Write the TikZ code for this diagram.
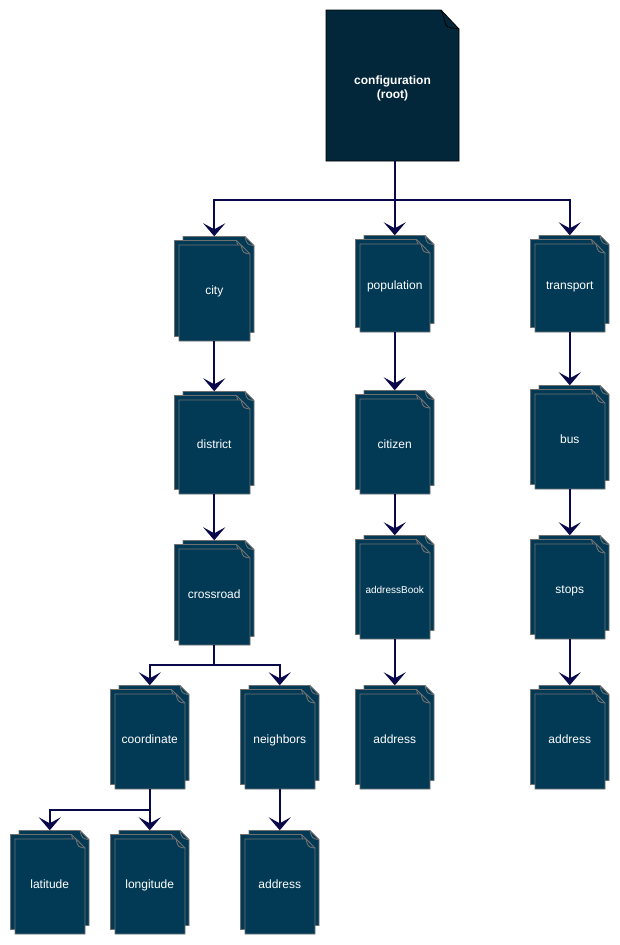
\documentclass[tikz,border=0pt]{standalone}
\usepackage{fontspec}
\setmainfont{Liberation Sans}
\usetikzlibrary{arrows.meta}

\definecolor{pagefill}{HTML}{023A55}
\definecolor{rootfill}{HTML}{03273A}
\definecolor{pageline}{HTML}{707070}
\definecolor{linkcol}{HTML}{08084A}

\tikzset{
  sheet/.style={fill=pagefill, draw=pageline, line width=0.9pt, line join=miter},
  foldline/.style={draw=pageline, line width=0.9pt},
  stacklabel/.style={inner sep=0pt, text=white, font=\fontsize{12}{14}\selectfont,
    align=center, text height=12pt, text depth=0pt},
  conn/.style={draw=linkcol, line width=2pt, -{Stealth[length=13pt,width=22pt,inset=6pt]}},
}

% one page with a folded top-right corner: left, top, width, height
\newcommand\drawsheet[4]{%
  \path[sheet] ({#1},{#2}) -- ({#1+#3-9},{#2}) -- ({#1+#3},{#2+9})
    -- ({#1+#3},{#2+#4}) -- ({#1},{#2+#4}) -- cycle;
  \draw[foldline] ({#1+#3-9},{#2}) .. controls ({#1+#3-7},{#2+8}) .. ({#1+#3},{#2+9});
}

% a stack of three pages with a named label node over the whole stack
% name, left and top of the front page, width, height, label
\newcommand\docstack[6]{%
  \drawsheet{#2+4}{#3-8.5}{#4}{#5}
  \drawsheet{#2-4.5}{#3-4.5}{#4}{#5}
  \drawsheet{#2}{#3}{#4}{#5}
  \node[stacklabel, minimum width={#4pt+8.5pt}, minimum height={#5pt+8.5pt}]
    (#1) at ({#2-4.5+(#4+8.5)/2},{#3-8.5+(#5+8.5)/2}) {#6};
}

\begin{document}
\begin{tikzpicture}[x=1pt, y=-1pt]
\useasboundingbox (0,0) rectangle (620,945);

% root document
\path[fill=rootfill, draw=black, line width=0.8pt]
  (326,10) -- (441,10) -- (459,29) -- (459,161) -- (326,161) -- cycle;
\draw[black, line width=0.8pt] (441,10) .. controls (445,18) and (444,25) .. (448,27)
  .. controls (452,28) .. (459,29);
\node[inner sep=0pt, text=white, align=center, font=\bfseries\fontsize{12}{14.5}\selectfont,
      minimum width=133pt, minimum height=145pt] (root) at (392.5,88.5)
  {configuration\\(root)};

% first level
\docstack{city}{179}{245}{71}{96}{city}
\docstack{population}{360}{244}{70}{88}{population}
\docstack{transport}{535}{244}{70}{88}{transport}

% second level
\docstack{district}{179}{400}{71}{94}{district}
\docstack{citizen}{360}{399}{70}{95}{citizen}
\docstack{bus}{535}{394}{70}{95}{bus}

% third level
\docstack{crossroad}{179}{549}{71}{96}{crossroad}
\docstack{addrbook}{360}{544}{70}{95}{\fontsize{10}{12}\selectfont addressBook}
\docstack{stops}{535}{544}{70}{95}{stops}

% fourth level
\docstack{coord}{115}{694}{70}{95}{coordinate}
\docstack{neighbors}{245}{694}{70}{95}{neighbors}
\docstack{addrpop}{360}{694}{70}{95}{address}
\docstack{addrstops}{535}{694}{70}{95}{address}

% fifth level
\docstack{latitude}{15}{839}{70}{95}{latitude}
\docstack{longitude}{115}{839}{70}{95}{longitude}
\docstack{addrnb}{245}{839}{70}{95}{address}

% junction points of the branching connectors
\path (root.south -| population.north) ++(0,39) coordinate (j1);
\path (crossroad.south) ++(0,20) coordinate (j2);
\path (coord.south) ++(0,21) coordinate (j3);

% connectors
\draw[conn] (root.south -| population.north) -- (j1) -| (city.north);
\draw[conn] (j1) -- (population.north);
\draw[conn] (j1) -| (transport.north);

\draw[conn] (city.south) -- (district.north);
\draw[conn] (district.south) -- (crossroad.north);
\draw[conn] (population.south) -- (citizen.north);
\draw[conn] (citizen.south) -- (addrbook.north);
\draw[conn] (addrbook.south) -- (addrpop.north);
\draw[conn] (transport.south) -- (bus.north);
\draw[conn] (bus.south) -- (stops.north);
\draw[conn] (stops.south) -- (addrstops.north);

\draw[conn] (crossroad.south) -- (j2) -| (coord.north);
\draw[conn] (j2) -| (neighbors.north);
\draw[conn] (neighbors.south) -- (addrnb.north);

\draw[conn] (coord.south) -- (j3) -| (latitude.north);
\draw[conn] (j3) -- (longitude.north);
\end{tikzpicture}
\end{document}
